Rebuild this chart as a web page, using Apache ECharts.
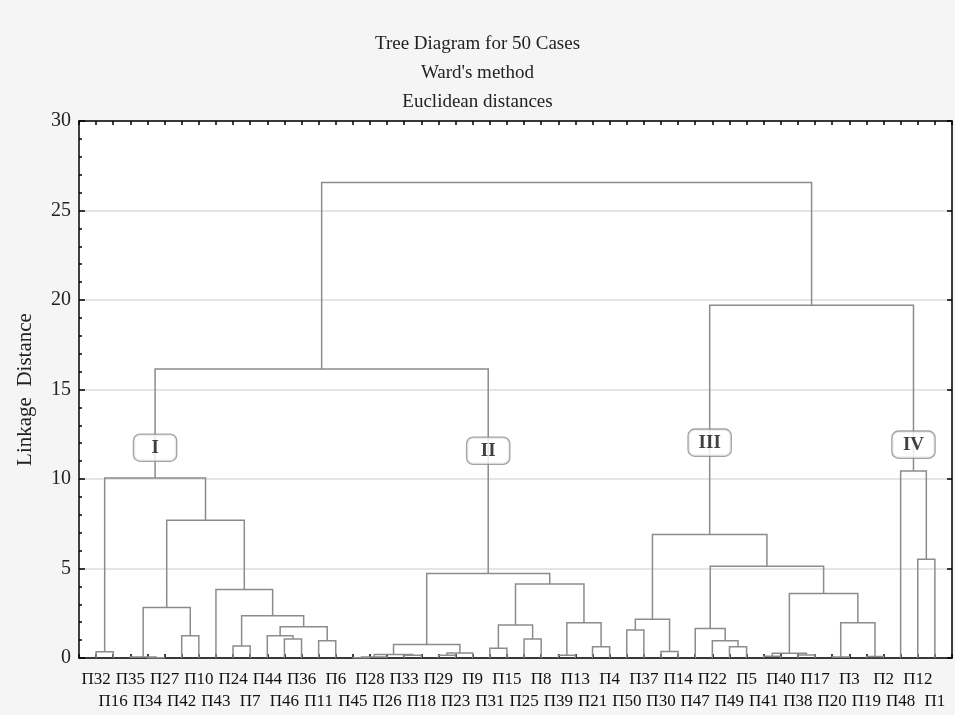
<!DOCTYPE html>
<html>
<head>
<meta charset="utf-8">
<script src="https://cdn.jsdelivr.net/npm/echarts@6/dist/echarts.min.js"></script>
<style>html,body{margin:0;padding:0;background:#f5f5f5;}#c{width:955px;height:715px;}</style>
</head>
<body>
<div id="c"></div>
<script>
// Leaf order along the x axis
var leafLabels = ['П32','П16','П35','П34','П27','П42','П10','П43','П24','П7','П44','П46','П36','П11','П6','П45',
  'П28','П26','П33','П18','П29','П23','П9','П31','П15','П25','П8','П39','П13','П21','П4','П50',
  'П37','П30','П14','П47','П22','П49','П5','П41','П40','П38','П17','П20','П3','П19','П2','П48','П12','П1'];

// Merge steps: left node, right node (leaf name or index of an earlier merge), linkage distance
var mergeLeft  = ['П32','П34','П35','П42', 2 ,'П24','П46','П44','П11', 7 , 5 ,'П43', 4 , 0 ,
  'П45', 14 ,'П33', 15 ,'П29', 18 , 17 ,'П31','П25', 21 ,'П39','П21', 24 , 23 , 20 , 13 ,
  'П50','П30', 30 ,'П49','П22','П47','П41','П38', 36 ,'П20','П19', 39 , 38 , 35 , 32 ,
  'П12','П48', 44 , 29 ];
var mergeRight = ['П16','П27', 1 ,'П10', 3 ,'П7','П36', 6 ,'П6', 8 , 9 , 10 , 11 , 12 ,
  'П28','П26','П18', 16 ,'П23','П9', 19 ,'П15','П8', 22 ,'П13','П4', 25 , 26 , 27 , 28 ,
  'П37','П14', 31 ,'П5', 33 , 34 ,'П40','П17', 37 ,'П3','П2', 40 , 41 , 42 , 43 ,
  'П1', 45 , 46 , 47 ];
var mergeHeight = [0.35,0.02,0.05,1.24,2.82,0.67,1.06,1.24,0.97,1.75,2.36,3.83,7.7,10.05,
  0.02,0.06,0.15,0.2,0.15,0.28,0.76,0.54,1.06,1.84,0.15,0.63,1.97,4.13,4.72,16.15,
  1.56,0.37,2.16,0.63,0.97,1.65,0.1,0.17,0.27,0.05,0.08,1.97,3.61,5.13,6.9,
  5.52,10.45,19.71,26.56];

// Cluster tags: name, merge they sit on, height of the tag
var clusterNames = ['I','II','III','IV'];
var clusterNodes = [13, 28, 44, 46];
var clusterTagHeight = [11.75, 11.58, 12.03, 11.92];

var yTicks = [0,5,10,15,20,25,30];

// Build node positions
var mergeX = [];
function nodeInfo(ref){
  if (typeof ref === 'string') return {x: leafLabels.indexOf(ref) + 1, h: 0};
  return {x: mergeX[ref], h: mergeHeight[ref]};
}
var links = [];
for (var i = 0; i < mergeHeight.length; i++) {
  var a = nodeInfo(mergeLeft[i]), b = nodeInfo(mergeRight[i]);
  mergeX.push((a.x + b.x) / 2);
  links.push([a.x, a.h, b.x, b.h, mergeHeight[i]]);
}
var tags = clusterNames.map(function(n, k){ return {name: n, value: [mergeX[clusterNodes[k]], clusterTagHeight[k]]}; });

var serif = 'Liberation Serif';
var chart = echarts.init(document.getElementById('c'));
chart.setOption({
  backgroundColor: '#f5f5f5',
  animation: false,
  title: {
    text: 'Tree Diagram for 50 Cases\nWard\'s method\nEuclidean distances',
    left: 'center', top: 25,
    textStyle: {fontFamily: serif, fontSize: 19, fontWeight: 'normal', color: '#222', lineHeight: 29}
  },
  grid: {left: 79, right: 2, top: 121, bottom: 57, show: true, backgroundColor: '#fff', borderWidth: 0},
  xAxis: [{
    type: 'value', min: 0, max: 51, interval: 1, position: 'bottom',
    axisLine: {show: true, onZero: false, lineStyle: {color: '#000', width: 1.5}},
    axisTick: {show: true, inside: true, length: 4, lineStyle: {color: '#000', width: 1.5}},
    splitLine: {show: false},
    axisLabel: {
      show: true, margin: 11, fontFamily: serif, fontSize: 17, color: '#111', lineHeight: 22,
      formatter: function(v){
        if (v < 1 || v > leafLabels.length) return '';
        var t = leafLabels[v - 1];
        return (v % 2 === 1) ? t : '\n' + t;
      }
    }
  }, {
    type: 'value', min: 0, max: 51, interval: 1, position: 'top',
    axisLine: {show: true, onZero: false, lineStyle: {color: '#000', width: 1.5}},
    axisTick: {show: true, inside: true, length: 4, lineStyle: {color: '#000', width: 1.5}},
    splitLine: {show: false}, axisLabel: {show: false}
  }],
  yAxis: [{
    type: 'value', min: 0, max: 30, interval: 5, position: 'left',
    name: 'Linkage  Distance', nameLocation: 'middle', nameGap: 43,
    nameTextStyle: {fontFamily: serif, fontSize: 21, color: '#222'},
    axisLine: {show: true, onZero: false, lineStyle: {color: '#000', width: 1.5}},
    axisTick: {show: true, inside: true, length: 6, lineStyle: {color: '#000', width: 1.5}},
    minorTick: {show: true, splitNumber: 5, length: 3, lineStyle: {color: '#000', width: 1.5}},
    splitLine: {show: true, lineStyle: {color: '#dcdcdc', width: 1.5}},
    axisLabel: {margin: 8, fontFamily: serif, fontSize: 20, color: '#222',
      formatter: function(v){ return yTicks.indexOf(v) >= 0 ? String(v) : ''; }}
  }, {
    type: 'value', min: 0, max: 30, interval: 5, position: 'right',
    axisLine: {show: true, onZero: false, lineStyle: {color: '#000', width: 1.5}},
    axisTick: {show: true, inside: true, length: 5, lineStyle: {color: '#000', width: 1.5}},
    splitLine: {show: false}, axisLabel: {show: false}
  }],
  series: [{
    type: 'custom',
    xAxisIndex: 0, yAxisIndex: 0,
    data: links,
    renderItem: function(params, api){
      var p1 = api.coord([api.value(0), api.value(1)]);
      var p2 = api.coord([api.value(0), api.value(4)]);
      var p3 = api.coord([api.value(2), api.value(4)]);
      var p4 = api.coord([api.value(2), api.value(3)]);
      return {
        type: 'polyline',
        shape: {points: [p1, p2, p3, p4]},
        style: {stroke: '#8c8c8c', lineWidth: 1.5, fill: null}
      };
    },
    z: 3
  }, {
    type: 'scatter',
    xAxisIndex: 0, yAxisIndex: 0,
    symbolSize: 0,
    data: tags,
    z: 5,
    label: {
      show: true, position: 'inside',
      formatter: function(p){ return p.name; },
      fontFamily: serif, fontSize: 19, fontWeight: 'bold', color: '#111',
      backgroundColor: '#fff', borderColor: '#8c8c8c', borderWidth: 1.3, borderRadius: 6,
      width: 40, height: 22, align: 'center', verticalAlign: 'middle', lineHeight: 22,
      padding: [2, 1, 2, 1]
    }
  }]
});
</script>
</body>
</html>
